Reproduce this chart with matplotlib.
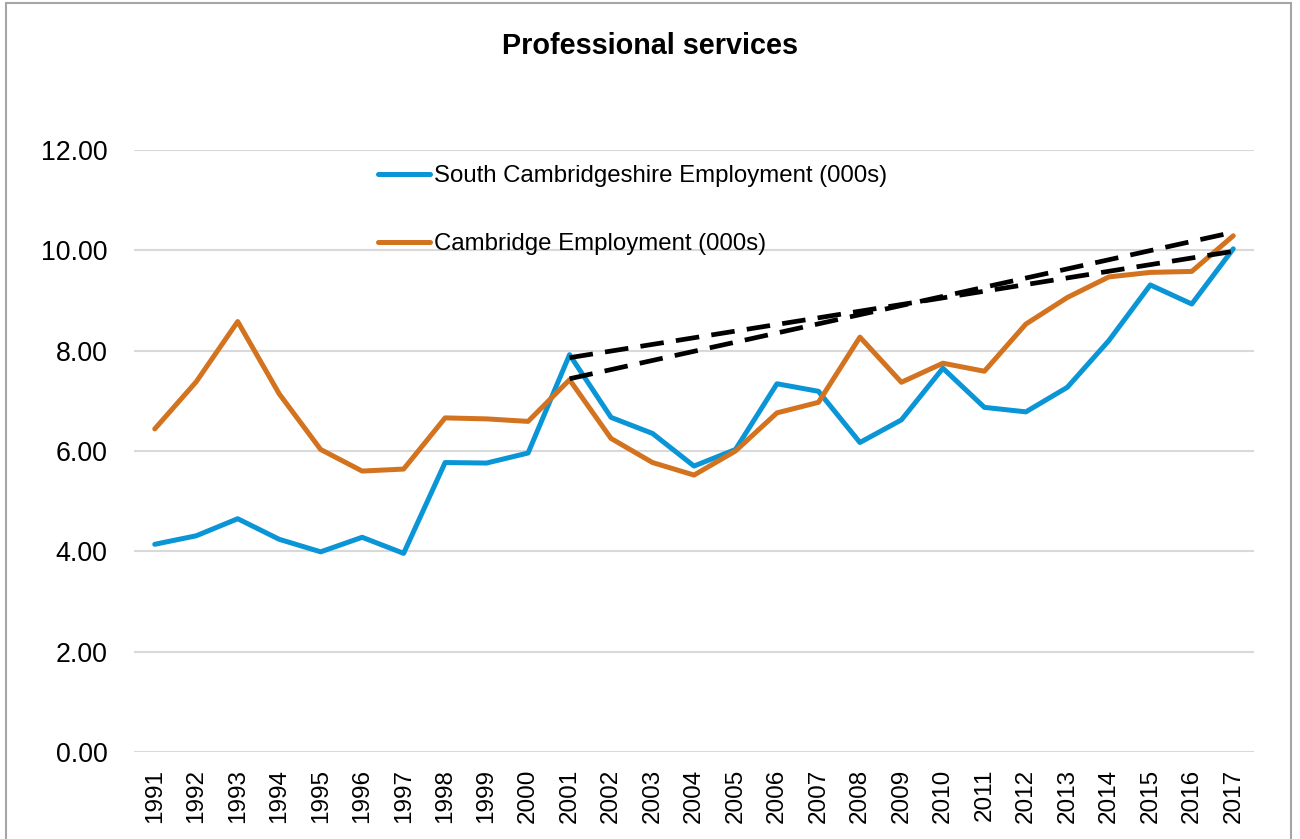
import numpy as np
import matplotlib
matplotlib.use("Agg")
import matplotlib.pyplot as plt
from matplotlib.patches import Rectangle

plt.rcParams["font.family"] = ["Liberation Sans", "DejaVu Sans"]

years = list(range(1991, 2018))
south_cambs = [4.14, 4.31, 4.65, 4.24, 3.99, 4.28, 3.96, 5.77, 5.76, 5.96, 7.92,
               6.67, 6.35, 5.70, 6.03, 7.34, 7.19, 6.17, 6.62, 7.65, 6.87, 6.78,
               7.27, 8.20, 9.31, 8.93, 10.03]
cambridge = [6.44, 7.38, 8.58, 7.14, 6.03, 5.60, 5.64, 6.66, 6.64, 6.59, 7.42,
             6.25, 5.77, 5.52, 6.00, 6.76, 6.97, 8.27, 7.37, 7.75, 7.59, 8.53,
             9.06, 9.47, 9.56, 9.58, 10.29]

# straight trend lines drawn over 2001-2017
trend_years = [2001, 2017]
trend_south = [7.86, 9.98]
trend_cambridge = [7.44, 10.36]

BLUE = "#0a95d6"
ORANGE = "#d4731f"

fig = plt.figure(figsize=(13, 8.39), dpi=100)
ax = fig.add_axes([134 / 1300, 1 - 752 / 839, 1120 / 1300, 602 / 839])

ax.plot(years, south_cambs, color=BLUE, lw=3.6, solid_joinstyle="round",
        solid_capstyle="round", label="South Cambridgeshire Employment (000s)", zorder=3)
ax.plot(years, cambridge, color=ORANGE, lw=3.6, solid_joinstyle="round",
        solid_capstyle="round", label="Cambridge Employment (000s)", zorder=3)
ax.plot(trend_years, trend_south, color="black", lw=3.4, ls=(0, (5, 2.6)), zorder=4)
ax.plot(trend_years, trend_cambridge, color="black", lw=3.4, ls=(0, (5, 2.6)), zorder=4)

ax.set_xlim(1990.5, 2017.5)
ax.set_ylim(0, 12)
ax.set_yticks(np.arange(0, 13, 2))
ax.set_yticklabels([f"{v:.2f}" for v in np.arange(0, 13, 2)], fontsize=19.3)
ax.set_xticks(years)
ax.set_xticklabels([str(y) for y in years], rotation=90, fontsize=17.5)
ax.tick_params(axis="both", length=0)
ax.tick_params(axis="y", pad=19)
ax.tick_params(axis="x", pad=12)
ax.grid(axis="y", color="#d9d9d9", lw=1.5)
ax.set_axisbelow(True)
for s in ax.spines.values():
    s.set_visible(False)

leg = ax.legend(loc="upper left", bbox_to_anchor=(378 / 1300, 1 - 165 / 839),
                bbox_transform=fig.transFigure, frameon=False, fontsize=17.3,
                handlelength=2.15, handletextpad=0.2, labelspacing=1.92,
                borderpad=0, borderaxespad=0)

fig.text(650 / 1300, 1 - 46 / 839, "Professional services", ha="center", va="center",
         fontsize=20.7, fontweight="bold")

fig.patches.append(Rectangle((6 / 1300, -0.02), 1285 / 1300, 1.0164, transform=fig.transFigure,
                             fill=False, edgecolor="#a6a6a6", lw=1.5))

fig.savefig("out.png", dpi=100)
